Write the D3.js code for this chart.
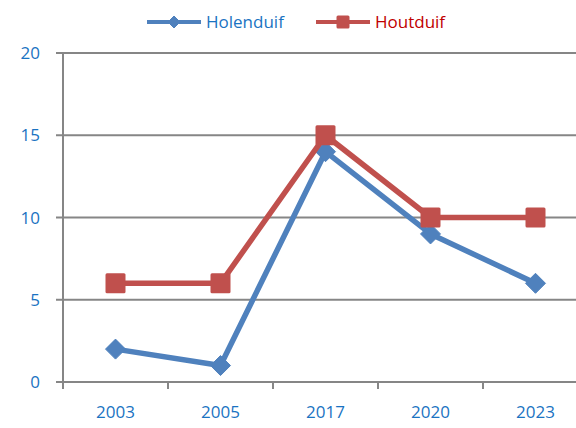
<!DOCTYPE html>
<html>
<head>
<meta charset="utf-8">
<script src="https://cdn.jsdelivr.net/npm/d3@7"></script>
<style>
  body { margin: 0; background: #fff; }
  text { font-family: "Open Sans", "Liberation Sans", sans-serif; }
</style>
</head>
<body>
<script>
// data
const years = ["2003", "2005", "2017", "2020", "2023"];
const holenduif = [2, 1, 14, 9, 6];
const houtduif = [6, 6, 15, 10, 10];
const yTicks = [0, 5, 10, 15, 20];

const W = 576, H = 428;
const plotLeft = 63, plotTop = 53, plotBottom = 382;
const step = 105;

const svg = d3.select("body").append("svg")
    .attr("width", W)
    .attr("height", H);

const x = d3.scaleBand()
    .domain(years)
    .range([plotLeft, plotLeft + step * years.length])
    .paddingInner(0).paddingOuter(0);

const y = d3.scaleLinear()
    .domain([0, 20])
    .range([plotBottom, plotTop]);

const grey = "#868686";
const labelColor = "#1a73c2";

// gridlines
svg.append("g")
    .selectAll("line")
    .data(yTicks)
    .join("line")
    .attr("x1", plotLeft - 7)
    .attr("x2", W)
    .attr("y1", d => y(d))
    .attr("y2", d => y(d))
    .attr("stroke", grey)
    .attr("stroke-width", 2);

// y axis line
svg.append("line")
    .attr("x1", plotLeft).attr("x2", plotLeft)
    .attr("y1", y(20)).attr("y2", y(0) + 7)
    .attr("stroke", grey)
    .attr("stroke-width", 2);

// x tick marks at band edges
svg.append("g")
    .selectAll("line")
    .data(years)
    .join("line")
    .attr("x1", d => x(d))
    .attr("x2", d => x(d))
    .attr("y1", y(0))
    .attr("y2", y(0) + 7)
    .attr("stroke", grey)
    .attr("stroke-width", 2);

// y labels
svg.append("g")
    .selectAll("text")
    .data(yTicks)
    .join("text")
    .attr("x", 40)
    .attr("y", d => y(d))
    .attr("dy", "0.36em")
    .attr("text-anchor", "end")
    .attr("fill", labelColor)
    .attr("font-size", 17)
    .text(d => d);

// x labels
svg.append("g")
    .selectAll("text")
    .data(years)
    .join("text")
    .attr("x", d => x(d) + x.bandwidth() / 2)
    .attr("y", 412)
    .attr("dy", "0.36em")
    .attr("text-anchor", "middle")
    .attr("fill", labelColor)
    .attr("font-size", 17)
    .text(d => d);

const cx = d => x(d) + x.bandwidth() / 2;
const line = d3.line().x(d => cx(d.year)).y(d => y(d.v));

const series = [
    { name: "Holenduif", values: holenduif, color: "#4f81bd", text: "#1a73c2", marker: "diamond" },
    { name: "Houtduif", values: houtduif, color: "#c0504d", text: "#c00000", marker: "square" }
];

function marker(g, type, color, r) {
    if (type === "diamond") {
        g.append("path")
            .attr("d", `M0,${-r}L${r},0L0,${r}L${-r},0Z`)
            .attr("fill", color)
            .attr("stroke", color).attr("stroke-width", 1).attr("stroke-linejoin", "round");
    } else {
        g.append("rect")
            .attr("x", -r).attr("y", -r)
            .attr("width", 2 * r).attr("height", 2 * r)
            .attr("rx", 1.5)
            .attr("fill", color);
    }
}

// blue first, red on top
series.forEach(s => {
    const pts = years.map((yr, i) => ({ year: yr, v: s.values[i] }));
    svg.append("path")
        .datum(pts)
        .attr("d", line)
        .attr("fill", "none")
        .attr("stroke", s.color)
        .attr("stroke-width", 5.5)
        .attr("stroke-linejoin", "round");
    pts.forEach(p => {
        const g = svg.append("g").attr("transform", `translate(${cx(p.year)},${y(p.v)})`);
        marker(g, s.marker, s.color, 10);
    });
});

// legend
const legendPos = [147, 316];
series.forEach((s, i) => {
    const g = svg.append("g").attr("transform", `translate(${legendPos[i]},22)`);
    g.append("line").attr("x1", 0).attr("x2", 54).attr("stroke", s.color).attr("stroke-width", 4);
    const m = g.append("g").attr("transform", "translate(27,0)");
    marker(m, s.marker, s.color, s.marker === "diamond" ? 6 : 6.5);
    g.append("text")
        .attr("x", 59)
        .attr("dy", "0.36em")
        .attr("fill", s.text)
        .attr("font-size", 17)
        .text(s.name);
});
</script>
</body>
</html>
